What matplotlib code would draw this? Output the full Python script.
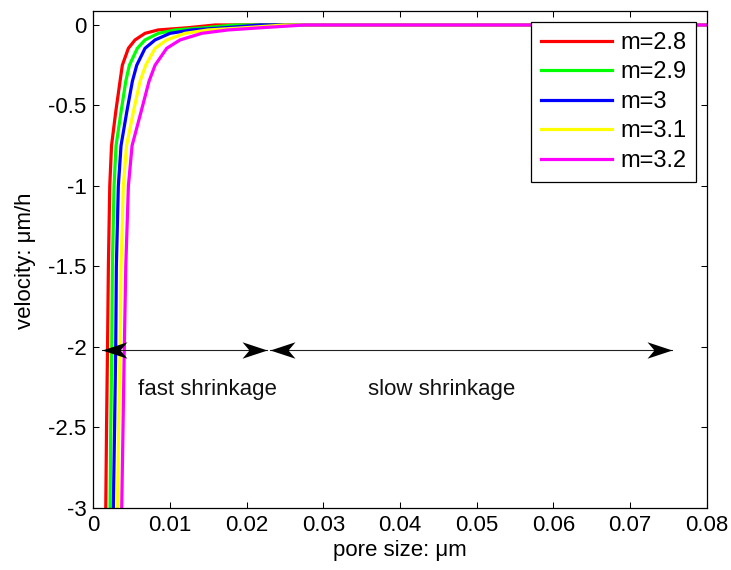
import numpy as np
import matplotlib
matplotlib.use("Agg")
import matplotlib.pyplot as plt
from matplotlib.path import Path

plt.rcParams['font.family'] = ['Liberation Sans', 'DejaVu Sans']
plt.rcParams['axes.unicode_minus'] = False

# ---- data ----
velocity = [-3.0, -2.5, -2.0, -1.5, -1.0, -0.75, -0.54, -0.35, -0.25,
            -0.145, -0.093, -0.052, -0.031, -0.017, 0.0, 0.0]

pore_m28 = [0.00162, 0.00172, 0.00185, 0.00196, 0.00214, 0.00237, 0.00292, 0.00348,
            0.00378, 0.00457, 0.00544, 0.00674, 0.00844, 0.01235, 0.01587, 0.08]
pore_m29 = [0.00218, 0.00227, 0.00240, 0.00248, 0.00270, 0.00296, 0.00361, 0.00423,
            0.00470, 0.00574, 0.00674, 0.00848, 0.01066, 0.01457, 0.01848, 0.08]
pore_m30 = [0.00261, 0.00277, 0.00292, 0.00300, 0.00326, 0.00361, 0.00436, 0.00509,
            0.00566, 0.00674, 0.00805, 0.01000, 0.01283, 0.01718, 0.02174, 0.08]
pore_m31 = [0.00313, 0.00329, 0.00348, 0.00361, 0.00391, 0.00433, 0.00522, 0.00609,
            0.00683, 0.00805, 0.00957, 0.01196, 0.01496, 0.01979, 0.02500, 0.08]
pore_m32 = [0.00370, 0.00387, 0.00404, 0.00423, 0.00457, 0.00505, 0.00622, 0.00726,
            0.00805, 0.00957, 0.01131, 0.01414, 0.01757, 0.02196, 0.02761, 0.08]

series_labels = ['m=2.8', 'm=2.9', 'm=3', 'm=3.1', 'm=3.2']
series_colors = ['#ff0000', '#00ff00', '#0000ff', '#ffff00', '#ff00ff']
series_pores = [pore_m28, pore_m29, pore_m30, pore_m31, pore_m32]

xticks = [0, 0.01, 0.02, 0.03, 0.04, 0.05, 0.06, 0.07, 0.08]
xticklabels = ['0', '0.01', '0.02', '0.03', '0.04', '0.05', '0.06', '0.07', '0.08']
yticks = [-3, -2.5, -2, -1.5, -1, -0.5, 0]
yticklabels = ['-3', '-2.5', '-2', '-1.5', '-1', '-0.5', '0']

arrow_y = -2.02
arrow_fast = (0.00110, 0.02262)
arrow_slow = (0.02305, 0.07544)
label_fast = (0.01483, -2.30, 'fast shrinkage')
label_slow = (0.04544, -2.30, 'slow shrinkage')

# ---- figure ----
fig = plt.figure(figsize=(7.31, 5.70), dpi=100)
ax = fig.add_axes([0.1277, 0.1093, 0.8391, 0.8709])

for pores, col, lab in zip(series_pores, series_colors, series_labels):
    ax.plot(pores, velocity, color=col, lw=2.3, label=lab, solid_joinstyle='miter')

# arrowheads (concave back)
head_r = Path([(0, 0), (-1, 0.33), (-0.72, 0), (-1, -0.33), (0, 0)],
              [Path.MOVETO, Path.LINETO, Path.LINETO, Path.LINETO, Path.CLOSEPOLY])
head_l = Path([(0, 0), (1, 0.33), (0.72, 0), (1, -0.33), (0, 0)],
              [Path.MOVETO, Path.LINETO, Path.LINETO, Path.LINETO, Path.CLOSEPOLY])
for (x0, x1) in (arrow_fast, arrow_slow):
    ax.plot([x0, x1], [arrow_y, arrow_y], color='#222222', lw=0.8, zorder=5)
    ax.plot([x1], [arrow_y], marker=head_r, markersize=36, color='black',
            markeredgewidth=0, zorder=6)
    ax.plot([x0], [arrow_y], marker=head_l, markersize=36, color='black',
            markeredgewidth=0, zorder=6)

for (tx, ty, s) in (label_fast, label_slow):
    ax.text(tx, ty, s, ha='center', va='baseline', fontsize=16, color='#111111')

ax.set_xlim(0, 0.08)
ax.set_ylim(-3, 0.085)
ax.set_xticks(xticks)
ax.set_xticklabels(xticklabels)
ax.set_yticks(yticks)
ax.set_yticklabels(yticklabels)
ax.tick_params(direction='in', length=4, width=0.75, top=True, right=True,
               labelsize=16, pad=5)
for sp in ax.spines.values():
    sp.set_linewidth(0.9)

ax.set_xlabel('pore size: μm', fontsize=16)
ax.set_ylabel('velocity: μm/h', fontsize=16)
ax.xaxis.set_label_coords(0.5, -0.066)
ax.yaxis.set_label_coords(-0.094, 0.497)

leg = ax.legend(loc='upper right', fontsize=17, frameon=True, fancybox=False,
                edgecolor='black', framealpha=1, handlelength=3.0,
                handletextpad=0.35, labelspacing=0.32, borderpad=0.42,
                borderaxespad=0.45)
leg.get_frame().set_linewidth(0.9)

fig.savefig('out.png', dpi=100)
